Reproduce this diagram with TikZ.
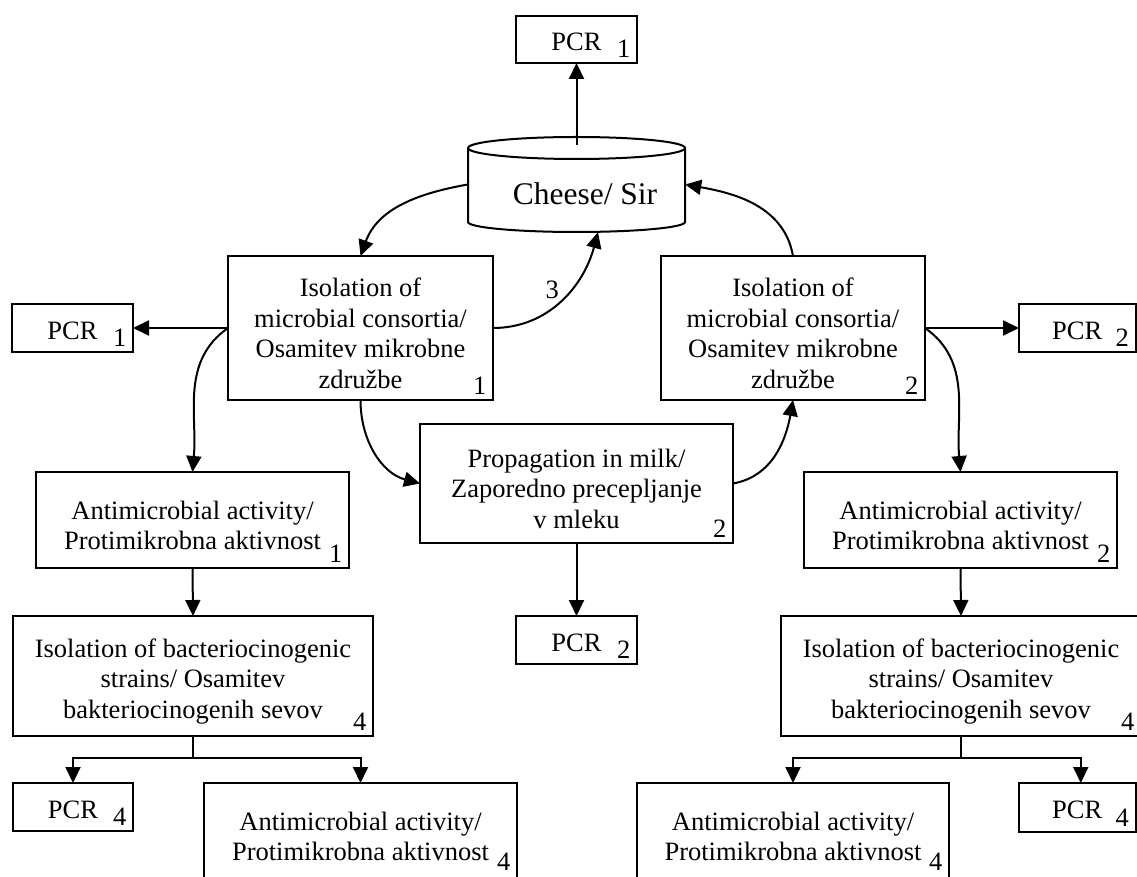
\documentclass[tikz,border=0pt]{standalone}
\usepackage{fontspec}
\setmainfont{Liberation Serif}
\usetikzlibrary{arrows.meta,calc}
\newcommand\topstrutA{\rule{0pt}{29pt}}
\newcommand\topstrutB{\rule{0pt}{23pt}}
\begin{document}
\begin{tikzpicture}[x=1pt,y=1pt,
  every node/.style={font=\fontsize{26.5}{30.5}\selectfont},
  box/.style={draw, line width=2pt, inner sep=0pt, outer sep=0pt, align=center},
  num/.style={anchor=base east, inner sep=0pt, xshift=-6.5pt, yshift=5.5pt},
  numlow/.style={anchor=base east, inner sep=0pt, xshift=-6.5pt, yshift=9pt},
  arr/.style={line width=2pt, -{Triangle[width=15pt,length=16pt]}},
  ln/.style={line width=2pt}]
\useasboundingbox (0,0) rectangle (1137,876);
\fill[white] (0,0) rectangle (1137,876);

% boxes
\node[box, minimum width=121pt, minimum height=47pt, label={[num]south east:1}] (pcrT) at (576.5,836.5) {\topstrutB PCR};
\node[box, minimum width=121pt, minimum height=48pt, label={[num]south east:1}] (pcr1L) at (72.5,548) {\topstrutB PCR};
\node[box, minimum width=265pt, minimum height=144pt, label={[num]south east:1}] (iso1) at (360.5,548) {\topstrutA Isolation of\\microbial consortia/\\Osamitev mikrobne\\združbe};
\node[box, minimum width=264pt, minimum height=144pt, label={[num]south east:2}] (iso2) at (793,548) {\topstrutA Isolation of\\microbial consortia/\\Osamitev mikrobne\\združbe};
\node[box, minimum width=116.5pt, minimum height=48pt, label={[num]south east:2}] (pcr2R) at (1077.25,548) {\topstrutB PCR};
\node[box, minimum width=313pt, minimum height=119pt, label={[num]south east:2}] (prop) at (576.5,392.5) {\topstrutA Propagation in milk/\\Zaporedno precepljanje\\v mleku};
\node[box, minimum width=121pt, minimum height=48pt, label={[num]south east:2}] (pcrM) at (576.5,236) {\topstrutB PCR};
\node[box, minimum width=313pt, minimum height=96pt, label={[num]south east:1}] (anti1) at (192.5,356) {\topstrutA Antimicrobial activity/\\Protimikrobna aktivnost};
\node[box, minimum width=313pt, minimum height=96pt, label={[num]south east:2}] (anti2) at (960.5,356) {\topstrutA Antimicrobial activity/\\Protimikrobna aktivnost};
\node[box, minimum width=360pt, minimum height=120pt, label={[num]south east:4}] (bact1) at (193,200) {\topstrutA Isolation of bacteriocinogenic\\strains/ Osamitev\\bakteriocinogenih sevov};
\node[box, minimum width=360pt, minimum height=120pt, label={[num]south east:4}] (bact2) at (961,200) {\topstrutA Isolation of bacteriocinogenic\\strains/ Osamitev\\bakteriocinogenih sevov};
\node[box, minimum width=120pt, minimum height=48pt, label={[num]south east:4}] (pcr4L) at (73,69) {\topstrutB PCR};
\node[box, minimum width=313pt, minimum height=96pt, label={[numlow]south east:4}] (anti4L) at (360.5,45) {\topstrutA Antimicrobial activity/\\Protimikrobna aktivnost};
\node[box, minimum width=312pt, minimum height=96pt, label={[numlow]south east:4}] (anti4R) at (793,45) {\topstrutA Antimicrobial activity/\\Protimikrobna aktivnost};
\node[box, minimum width=116.5pt, minimum height=49pt, label={[num]south east:4}] (pcr4R) at (1077.25,68.5) {\topstrutB PCR};

% cheese cylinder
\draw[ln] (468,728) -- (468,654) arc[start angle=180,end angle=360,x radius=108.5pt,y radius=10pt] -- (685,728);
\draw[ln] (576.5,728) ellipse[x radius=108.5pt, y radius=11pt];
\node[minimum width=217pt, minimum height=95pt, inner sep=0pt] (cyl) at (576.5,691.5) {};
\node[anchor=base, inner sep=0pt, font=\fontsize{31.5}{36}\selectfont] (cyltxt) at (585,671) {Cheese/ Sir};

% connectors
\draw[arr] ($(cyl.north)+(0,-8)$) -- (pcrT.south);
\draw[arr] (cyl.west) to[out=190,in=70] (iso1.north);
\draw[arr] (iso2.north) to[out=100,in=-10] (cyl.east);
\draw[arr] (iso1.east) to[out=0,in=-105] node[pos=0.5,anchor=south east,inner sep=1pt] (l3) {3} ($(cyl.south)+(21.5,0)$);
\draw[arr] (iso1.west) -- (pcr1L.east);
\draw[arr] (iso2.east) -- (pcr2R.west);
\draw[arr] (iso1.west) to[out=215,in=85] (anti1.north);
\draw[arr] (iso2.east) to[out=-35,in=95] (anti2.north);
\draw[arr] (iso1.south) to[out=-90,in=165] (prop.west);
\draw[arr] (prop.east) to[out=10,in=-100] (iso2.south);
\draw[arr] (anti1.south) -- (bact1.north);
\draw[arr] (anti2.south) -- (bact2.north);
\draw[arr] (prop.south) -- (pcrM.north);
\draw[arr] (bact1.south) -- ++(0,-22) -| (pcr4L.north);
\draw[arr] (bact1.south) -- ++(0,-22) -| (anti4L.north);
\draw[arr] (bact2.south) -- ++(0,-22) -| (anti4R.north);
\draw[arr] (bact2.south) -- ++(0,-22) -| ($(pcr4R.north)+(3.5,0)$);
\end{tikzpicture}
\end{document}
